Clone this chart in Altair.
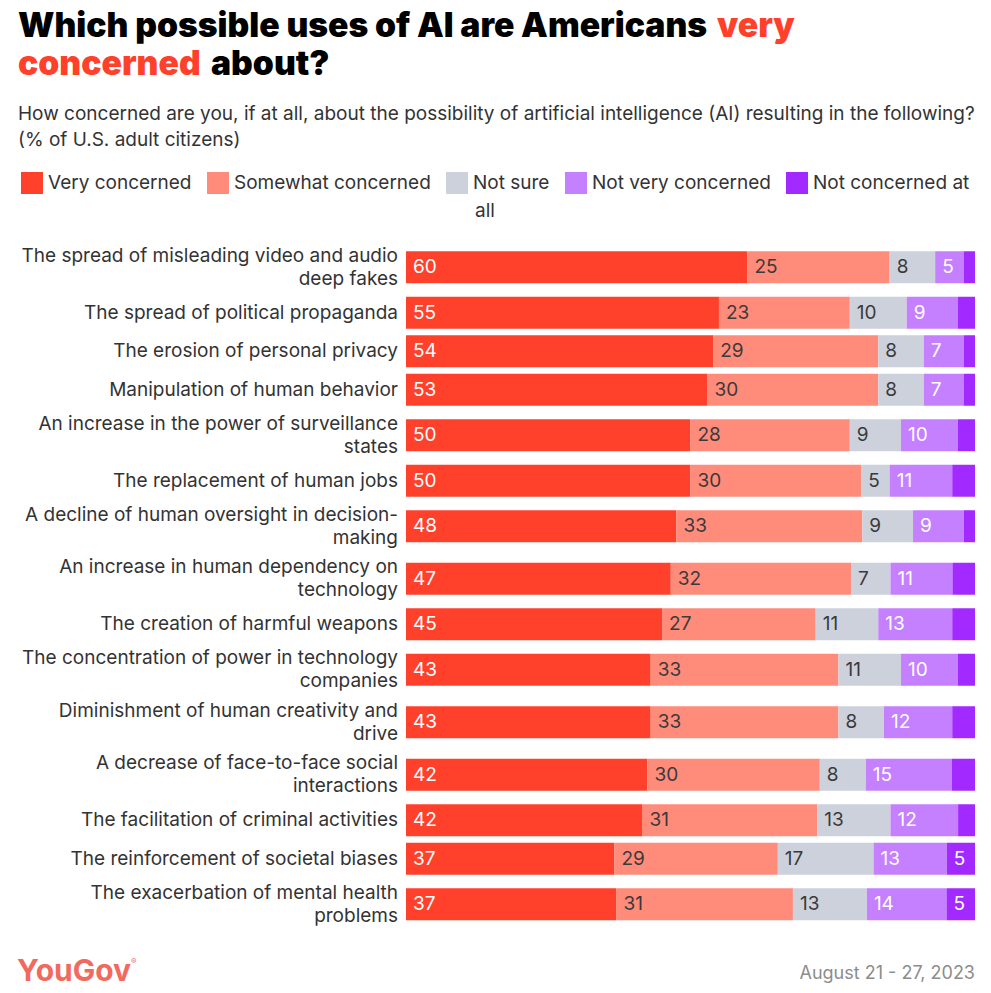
import altair as alt
import pandas as pd

# ---------------- data ----------------
items = [
    "The spread of misleading video and audio\ndeep fakes",
    "The spread of political propaganda",
    "The erosion of personal privacy",
    "Manipulation of human behavior",
    "An increase in the power of surveillance\nstates",
    "The replacement of human jobs",
    "A decline of human oversight in decision-\nmaking",
    "An increase in human dependency on\ntechnology",
    "The creation of harmful weapons",
    "The concentration of power in technology\ncompanies",
    "Diminishment of human creativity and\ndrive",
    "A decrease of face-to-face social\ninteractions",
    "The facilitation of criminal activities",
    "The reinforcement of societal biases",
    "The exacerbation of mental health\nproblems",
]
categories = ["Very concerned", "Somewhat concerned", "Not sure",
              "Not very concerned", "Not concerned at all"]
very_concerned     = [60, 55, 54, 53, 50, 50, 48, 47, 45, 43, 43, 42, 42, 37, 37]
somewhat_concerned = [25, 23, 29, 30, 28, 30, 33, 32, 27, 33, 33, 30, 31, 29, 31]
not_sure           = [8, 10, 8, 8, 9, 5, 9, 7, 11, 11, 8, 8, 13, 17, 13]
not_very_concerned = [5, 9, 7, 7, 10, 11, 9, 11, 13, 10, 12, 15, 12, 13, 14]
not_concerned_all  = [2, 3, 2, 2, 3, 4, 2, 4, 4, 3, 4, 4, 3, 5, 5]

colors = ["#FF412C", "#FF8B7B", "#CDD1DB", "#C580FF", "#A229FF"]

# ---------------- layout helpers ----------------
FONT = "Inter"
FS = 19                 # body text size
LINE_H = 23             # label line height
ROW_ONE_LINE = 38.5     # px height of a row whose label has one line
ROW_EXTRA_LINE = 14     # extra px for each further label line
BAR_HALF = 16           # half bar thickness (px)
PLOT_W = 569

centers, nlines = [], []
acc = 0.0
for lab in items:
    n = lab.count("\n") + 1
    h = ROW_ONE_LINE + ROW_EXTRA_LINE * (n - 1)
    centers.append(acc + h / 2)
    nlines.append(n)
    acc += h
total_h = acc

series = [very_concerned, somewhat_concerned, not_sure, not_very_concerned, not_concerned_all]
rows = []
for i, lab in enumerate(items):
    for j, cat in enumerate(categories):
        rows.append(dict(item=lab, order=j, cat=cat, value=series[j][i], center=centers[i]))
df = pd.DataFrame(rows)
items_df = pd.DataFrame({"item": items, "center": centers, "lines": nlines})

xscale = alt.Scale(domain=[0, 1], nice=False, zero=False)
yscale = alt.Scale(domain=[0, total_h], reverse=True, nice=False, zero=False)

base = (
    alt.Chart(df)
    .transform_stack(stack="value", groupby=["item"], as_=["x0", "x1"],
                     offset="normalize", sort=[alt.SortField("order")])
    .transform_calculate(y0=f"datum.center - {BAR_HALF}", y1=f"datum.center + {BAR_HALF}")
)

bars = base.mark_rect().encode(
    x=alt.X("x0:Q", scale=xscale, axis=None),
    x2="x1:Q",
    y=alt.Y("y0:Q", scale=yscale, axis=None),
    y2="y1:Q",
    color=alt.Color(
        "cat:N",
        scale=alt.Scale(domain=categories, range=colors),
        legend=alt.Legend(
            title=None, orient="none", legendX=21 - 406, legendY=172 - 241,
            direction="horizontal", symbolType="square", symbolSize=484,
            symbolStrokeWidth=0, symbolOpacity=1, labelFontSize=FS, labelFont=FONT,
            labelColor="#333333", labelOffset=5, columnPadding=15, padding=0,
            labelLimit=400,
            labelExpr="datum.label == 'Not concerned at all' ? 'Not concerned at' : datum.label",
        ),
    ),
)

value_labels = base.transform_filter("datum.value >= 5").mark_text(
    align="left", baseline="middle", dx=7, fontSize=FS, font=FONT
).encode(
    x=alt.X("x0:Q", scale=xscale, axis=None),
    y=alt.Y("center:Q", scale=yscale, axis=None),
    text=alt.Text("value:Q"),
    color=alt.condition(
        "datum.cat == 'Somewhat concerned' || datum.cat == 'Not sure'",
        alt.value("#3a3a3a"), alt.value("#ffffff"),
    ),
)

row_labels = alt.Chart(items_df).transform_calculate(
    ly=f"datum.center - (datum.lines - 1) * {LINE_H / 2}"
).mark_text(
    align="right", baseline="middle", lineBreak="\n", lineHeight=LINE_H,
    fontSize=FS, font=FONT, color="#333333",
).encode(
    x=alt.value(-8),
    y=alt.Y("ly:Q", scale=yscale, axis=None),
    text="item:N",
)


def txt(s, x, y, size, color, weight="normal", align="left"):
    return alt.Chart(pd.DataFrame({"t": [s]})).mark_text(
        align=align, baseline="alphabetic", fontSize=size, font=FONT,
        fontWeight=weight, color=color,
    ).encode(x=alt.value(x), y=alt.value(y), text="t:N")


OX, OY = 406, 241  # page position of plot origin
RED = "#FF412C"
TS = 33.7
texts = [
    txt("Which possible uses of AI are Americans", 18 - OX, 36.5 - OY, TS, "#000000", 900),
    txt("very", 717 - OX, 36.5 - OY, TS, RED, 900),
    txt("concerned", 18 - OX, 75 - OY, TS, RED, 900),
    txt("about?", 211 - OX, 75 - OY, TS, "#000000", 900),
    txt("How concerned are you, if at all, about the possibility of artificial intelligence (AI) resulting in the following?",
        18 - OX, 120 - OY, FS, "#333333"),
    txt("(% of U.S. adult citizens)", 18 - OX, 146 - OY, FS, "#333333"),
    txt("all", 475 - OX, 217 - OY, FS, "#333333"),
    txt("YouGov", 17 - OX, 981 - OY, 30, "#F26A5E", 700),
    txt("®", 131 - OX, 964 - OY, 8, "#F26A5E"),
    txt("August 21 - 27, 2023", 975 - OX, 979 - OY, 18, "#8C8C8C", "normal", "right"),
]

chart = alt.layer(bars, value_labels, row_labels, *texts).properties(
    width=PLOT_W,
    height=total_h,
    autosize=alt.AutoSizeParams(type="none"),
    padding={"left": 398, "top": 233, "right": 8, "bottom": 62},
    background="#ffffff",
).configure_view(stroke=None)

chart.save("out.html", embed_options={"renderer": "svg", "actions": False})
